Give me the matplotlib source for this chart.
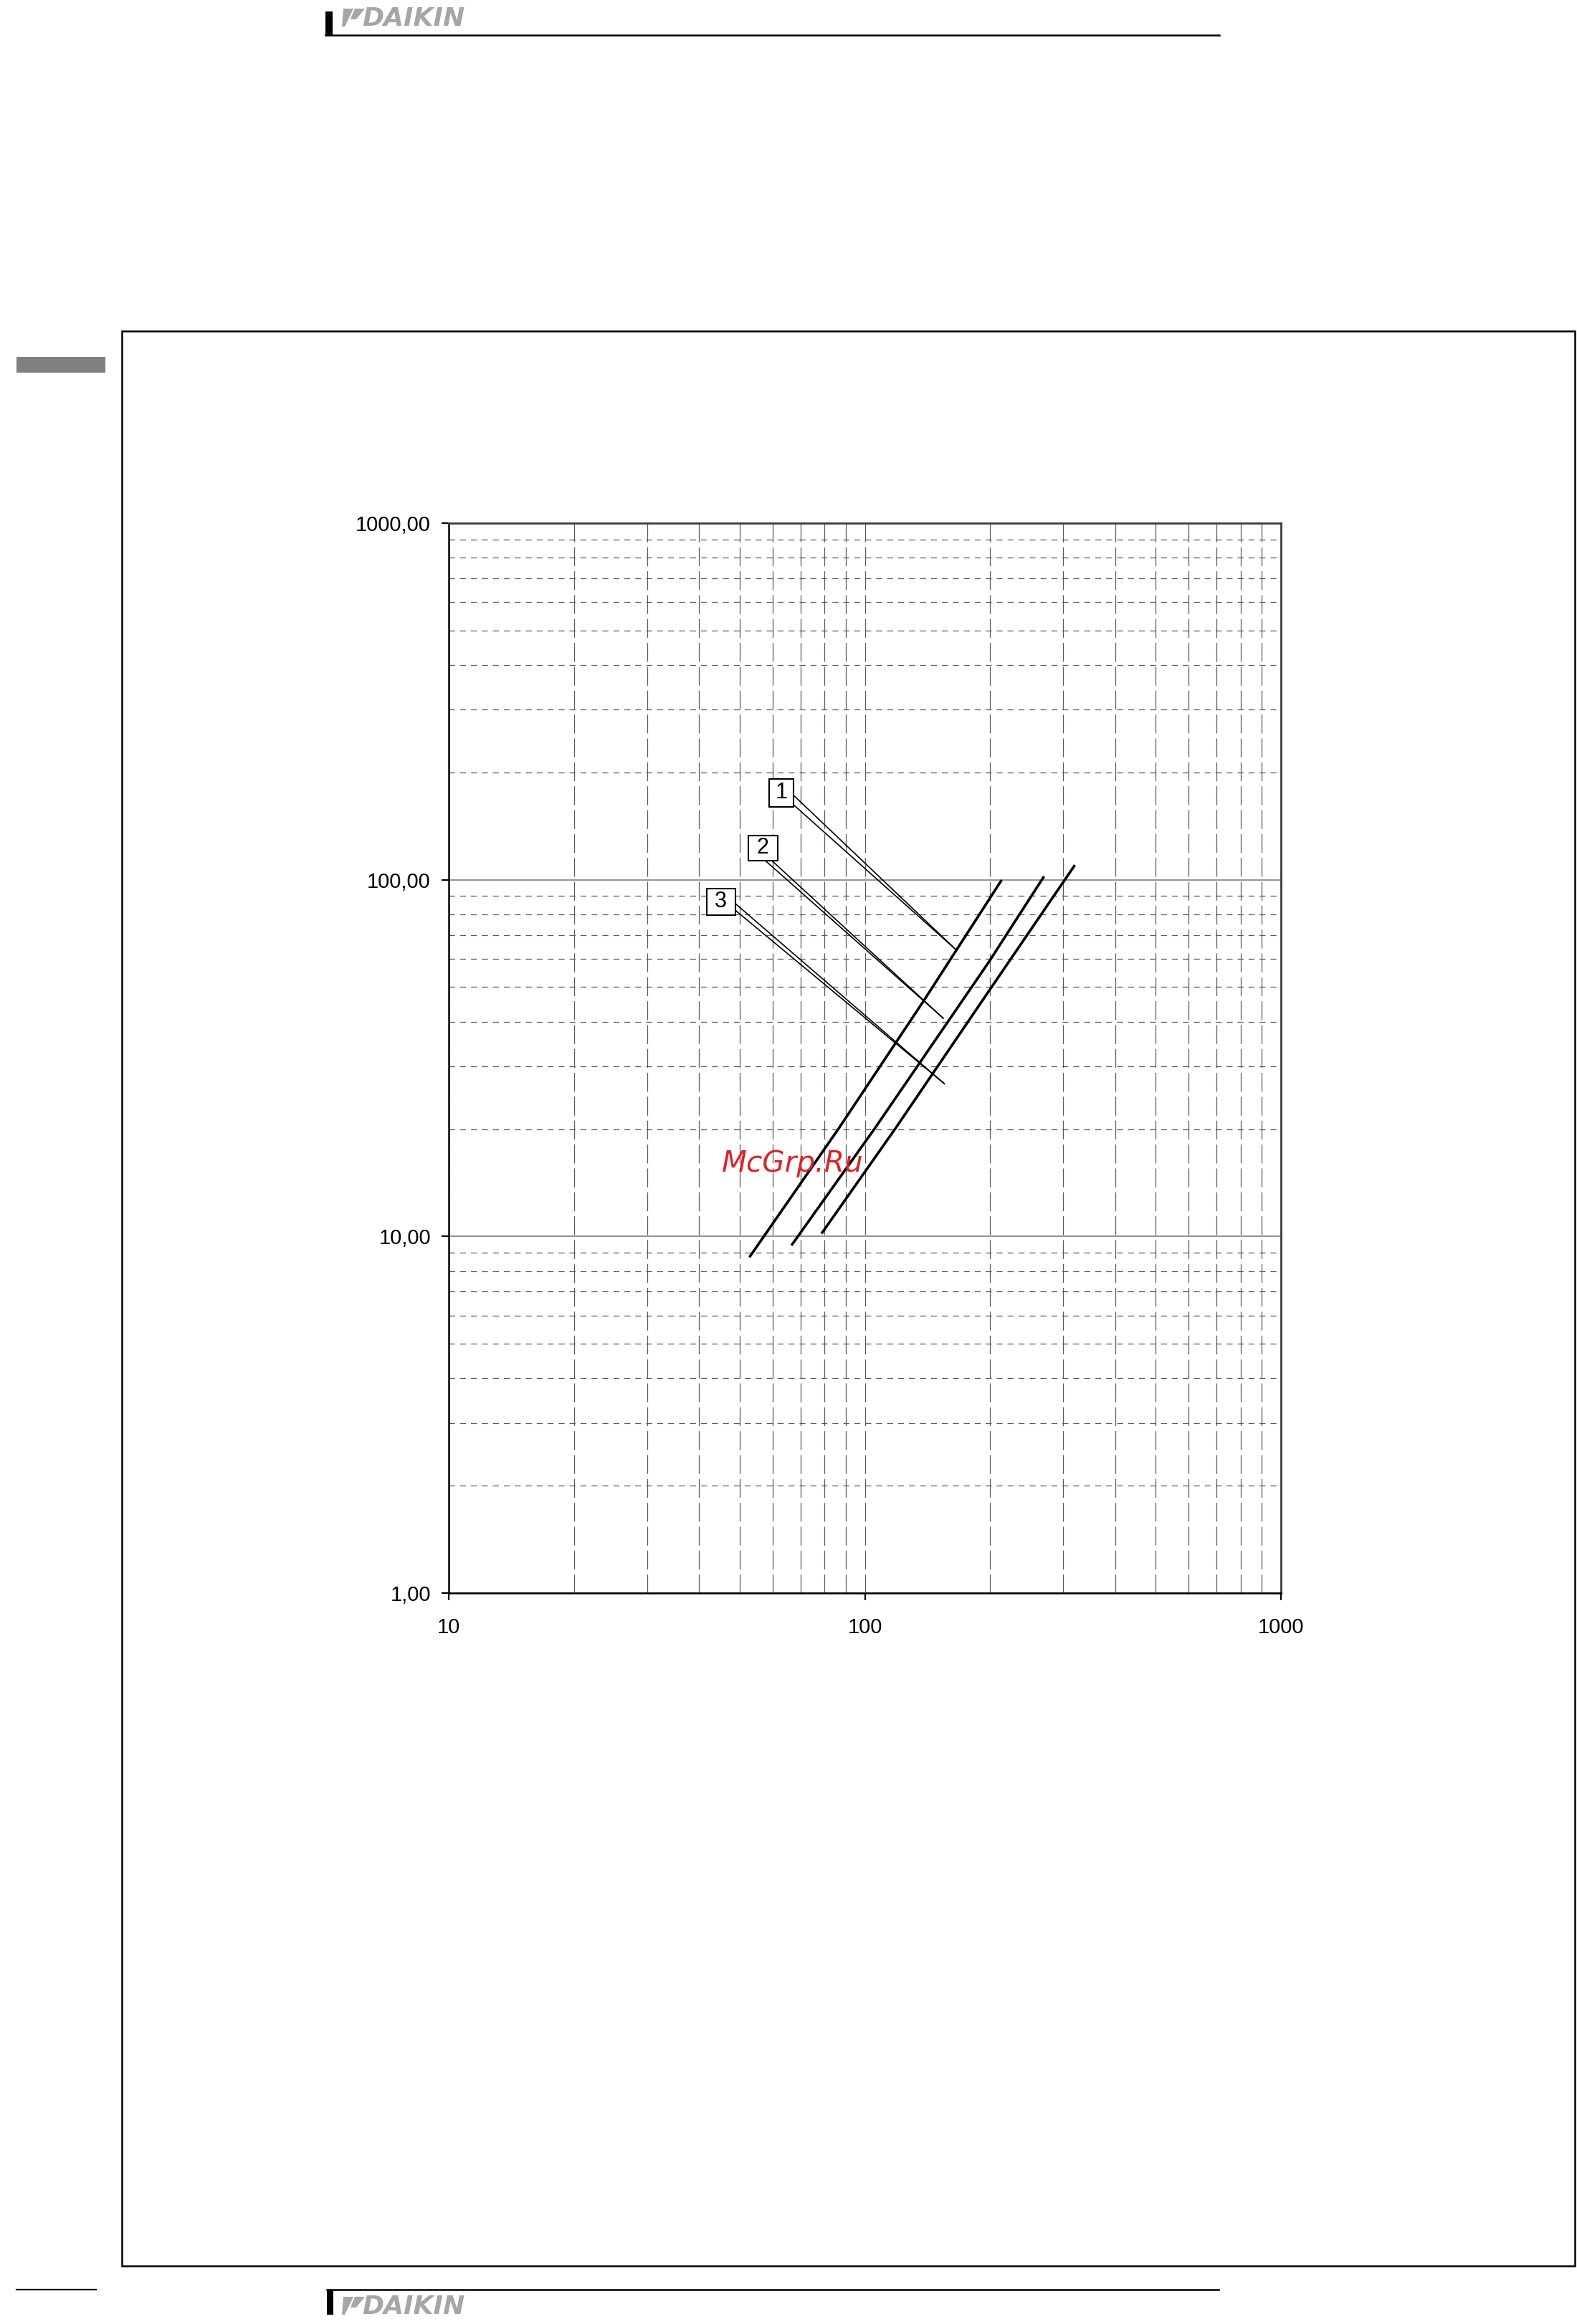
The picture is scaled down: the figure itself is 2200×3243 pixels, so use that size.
import matplotlib
matplotlib.use("Agg")
from matplotlib import pyplot
from matplotlib.patches import Rectangle, Polygon
from matplotlib.ticker import NullFormatter

pyplot.rcParams['lines.scale_dashes'] = False
pyplot.rcParams['font.family'] = ['Liberation Sans', 'DejaVu Sans']

# curves
curve1_x = [53.0, 86.6, 138.7, 212.3]
curve1_y = [8.8, 20.1, 45.9, 99.1]
curve2_x = [66.9, 105.7, 198.6, 268.5]
curve2_y = [9.5, 20.1, 58.8, 101.5]
curve3_x = [79.0, 118.5, 199.0, 318.4]
curve3_y = [10.25, 20.1, 48.9, 109.2]

x_ticks = [10, 100, 1000]
x_ticklabels = ["10", "100", "1000"]
y_ticks = [1, 10, 100, 1000]
y_ticklabels = ["1,00", "10,00", "100,00", "1000,00"]

callout_text = ["1", "2", "3"]
# callout layout (data coords): box corners, leader starts, leader tip
box_x0 = [58.9, 52.4, 41.7]
box_x1 = [67.5, 61.7, 48.8]
box_y0 = [160.0, 113.0, 79.6]
box_y1 = [192.0, 133.3, 94.5]
lead_a = [(67.5, 172.3), (57.8, 112.9), (48.8, 85.8)]
lead_b = [(67.5, 162.0), (59.9, 112.9), (48.8, 82.2)]
lead_tip = [(166.0, 63.5), (154.3, 40.9), (155.3, 26.8)]

W, H = 2200, 3243
fig = pyplot.figure(figsize=(W/200.0, H/200.0), dpi=200)

ax = fig.add_axes([626.0/W, 1-2223.0/H, (1787.0-626)/W, (2223.0-730)/H], zorder=2)
ax.set_xscale('log')
ax.set_yscale('log')
ax.set_xlim(10, 1000)
ax.set_ylim(1, 1000)

ax.grid(True, which='minor', axis='x', color='#5a5a5a', lw=0.45, linestyle=(0, (9.5, 2.5)))
ax.grid(True, which='minor', axis='y', color='#5a5a5a', lw=0.45, linestyle=(0, (3, 2.5)))
ax.grid(True, which='major', axis='x', color='#5a5a5a', lw=0.45, linestyle=(0, (9.5, 2.5)))
ax.grid(True, which='major', axis='y', color='#808080', lw=0.6, linestyle='-')
ax.set_axisbelow(True)

ax.plot(curve1_x, curve1_y, color='black', lw=1.3)
ax.plot(curve2_x, curve2_y, color='black', lw=1.3)
ax.plot(curve3_x, curve3_y, color='black', lw=1.3)

for i in range(3):
    ax.add_patch(Rectangle((box_x0[i], box_y0[i]), box_x1[i]-box_x0[i], box_y1[i]-box_y0[i],
                           facecolor='white', edgecolor='black', lw=0.75, zorder=4))
    cx = (box_x0[i]*box_x1[i])**0.5
    cy = (box_y0[i]*box_y1[i])**0.5
    ax.text(cx, cy, callout_text[i], ha='center', va='center', fontsize=11, zorder=5)
    for s in (lead_a[i], lead_b[i]):
        ax.plot([s[0], lead_tip[i][0]], [s[1], lead_tip[i][1]], color='black', lw=0.6, zorder=3)

ax.set_xticks(x_ticks)
ax.set_xticklabels(x_ticklabels)
ax.set_yticks(y_ticks)
ax.set_yticklabels(y_ticklabels)
ax.xaxis.set_minor_formatter(NullFormatter())
ax.yaxis.set_minor_formatter(NullFormatter())
ax.tick_params(which='minor', length=0)
ax.tick_params(which='major', length=3.6, width=0.8, direction='out', labelsize=10.5)
ax.tick_params(axis='y', pad=5.4)
ax.tick_params(axis='x', pad=8.5)
for side in ('left', 'bottom'):
    ax.spines[side].set_linewidth(0.9)
    ax.spines[side].set_color('black')
for side in ('top', 'right'):
    ax.spines[side].set_linewidth(1.0)
    ax.spines[side].set_color('#3a3a3a')

# page decorations in pixel coords
ov = fig.add_axes([0, 0, 1, 1], zorder=5)
ov.set_xlim(0, W)
ov.set_ylim(H, 0)
ov.axis('off')
ov.patch.set_visible(False)

ov.add_patch(Rectangle((170, 462), 2197-170, 3162-462, fill=False, edgecolor='black', lw=0.9))
ov.add_patch(Rectangle((23, 498), 124, 22, facecolor='#808080', edgecolor='none'))

def logo(y0):
    ov.add_patch(Polygon([(479, y0), (493, y0), (481, y0+25), (477, y0+25)], closed=True,
                         facecolor='#a6a6a6', edgecolor='none'))
    ov.add_patch(Polygon([(495, y0), (509, y0), (497, y0+15), (489, y0+15)], closed=True,
                         facecolor='#a6a6a6', edgecolor='none'))
    ov.text(505, y0+24, "DAIKIN", fontsize=13, fontweight='bold', style='italic',
            family=['DejaVu Sans'], color='#a6a6a6', ha='left', va='baseline')

# header
ov.add_patch(Rectangle((454, 16), 10, 34, facecolor='black', edgecolor='none'))
ov.plot([454, 1701], [49, 49], color='black', lw=0.9)
logo(12)
# footer
ov.plot([23, 134], [3195, 3195], color='black', lw=0.8)
ov.plot([456, 1700], [3195, 3195], color='black', lw=0.9)
ov.add_patch(Rectangle((456, 3196), 9, 34, facecolor='black', edgecolor='none'))
logo(3205)

# watermark
ov.text(1007, 1635, "McGrp.Ru", fontsize=14.6, style='italic', family=['DejaVu Sans'],
        color='#d9252a', ha='left', va='baseline')

pyplot.savefig("out.png", dpi=200)
